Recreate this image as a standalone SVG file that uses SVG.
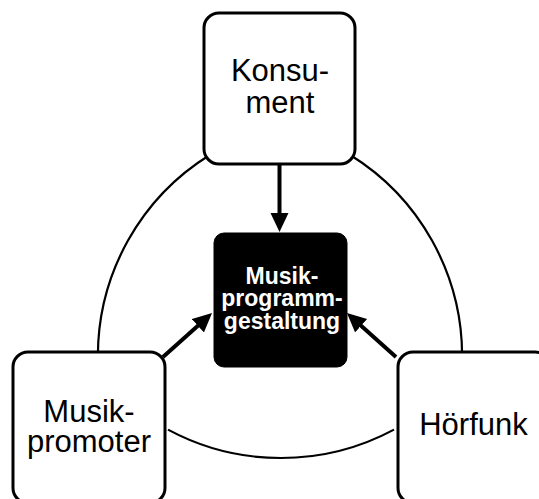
<svg xmlns="http://www.w3.org/2000/svg" width="539" height="499" viewBox="0 0 539 499">
<defs>
<style>
.node{fill:#fff;stroke:#000;stroke-width:3}
.center{fill:#000;stroke:#000;stroke-width:1}
.lbl{font-family:"Liberation Sans",Arial,sans-serif;font-size:31px;fill:#000;text-anchor:middle}
.clbl{font-family:"Liberation Sans",Arial,sans-serif;font-size:23px;font-weight:bold;fill:#fff;text-anchor:middle}
.arc{fill:none;stroke:#000;stroke-width:2.2}
.arrow{fill:none;stroke:#000;stroke-width:4;marker-end:url(#ah)}
</style>
<marker id="ah" markerUnits="userSpaceOnUse" markerWidth="20" markerHeight="20" refX="9" refY="9" orient="auto">
<path d="M0,0 L19,9 L0,18 z" fill="#000"/>
</marker>
</defs>
<g id="connectors">
<path class="arc" d="M209.7,155 A236.6,236.6 0 0 0 97.9,355"/>
<path class="arc" d="M350.3,155 A236.6,236.6 0 0 1 462.1,355"/>
<path class="arc" d="M168,429.6 A239,239 0 0 0 394,429.6"/>
<line class="arrow" x1="279.5" y1="164" x2="279.5" y2="222"/>
<line class="arrow" x1="163" y1="357" x2="204.6" y2="319.7"/>
<line class="arrow" x1="396" y1="357" x2="354.4" y2="319.7"/>
</g>
<g id="konsument">
<rect class="node" x="204" y="13" width="151" height="151" rx="15"/>
<text class="lbl" x="280" y="81">Konsu-</text>
<text class="lbl" x="280" y="113">ment</text>
</g>
<g id="musikpromoter">
<rect class="node" x="13" y="352" width="152" height="151" rx="15"/>
<text class="lbl" x="89" y="422">Musik-</text>
<text class="lbl" x="89" y="452">promoter</text>
</g>
<g id="hoerfunk">
<rect class="node" x="398" y="352" width="152" height="151" rx="15"/>
<text class="lbl" x="473.5" y="435">Hörfunk</text>
</g>
<g id="musikprogrammgestaltung">
<rect class="center" x="214" y="233" width="133" height="134" rx="10"/>
<text class="clbl" x="282" y="283.5">Musik-</text>
<text class="clbl" x="282" y="306">programm-</text>
<text class="clbl" x="282" y="328.5">gestaltung</text>
</g>
</svg>
